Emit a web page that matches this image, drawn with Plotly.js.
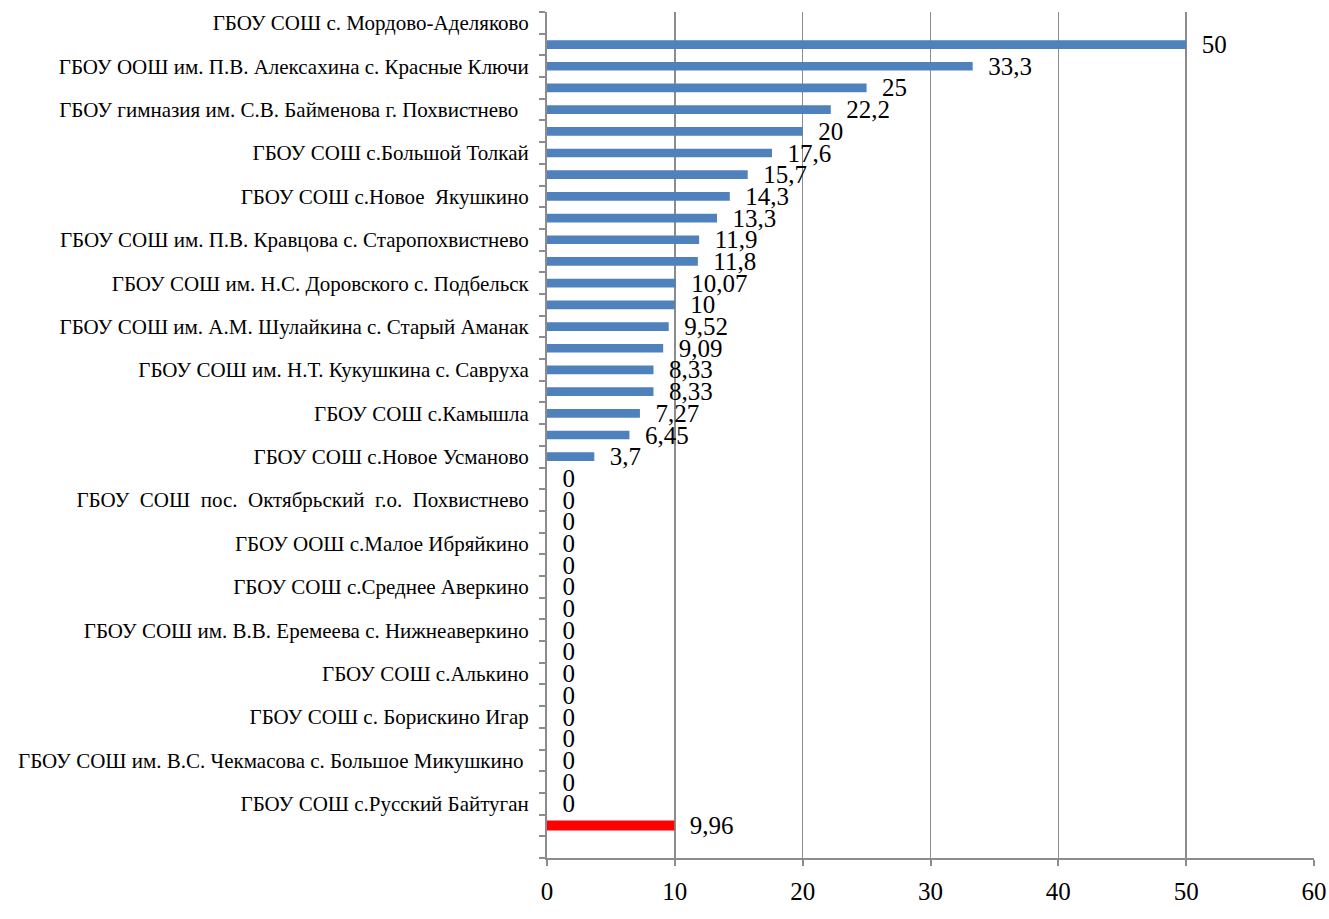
<!DOCTYPE html>
<html>
<head>
<meta charset="utf-8">
<script src="https://cdn.plot.ly/plotly-3.0.1.min.js"></script>
<style>html,body{margin:0;padding:0;background:#fff;}#chart{width:1329px;height:919px;}</style>
</head>
<body>
<div id="chart"></div>
<script>
// Category labels shown on the axis (every other row, top to bottom)
const tickLabels = [
  "ГБОУ СОШ с. Мордово-Аделяково",
  "ГБОУ ООШ им. П.В. Алексахина с. Красные Ключи",
  "ГБОУ гимназия им. С.В. Байменова г. Похвистнево  ",
  "ГБОУ СОШ с.Большой Толкай",
  "ГБОУ СОШ с.Новое  Якушкино",
  "ГБОУ СОШ им. П.В. Кравцова с. Старопохвистнево",
  "ГБОУ СОШ им. Н.С. Доровского с. Подбельск",
  "ГБОУ СОШ им. А.М. Шулайкина с. Старый Аманак",
  "ГБОУ СОШ им. Н.Т. Кукушкина с. Савруха",
  "ГБОУ СОШ с.Камышла",
  "ГБОУ СОШ с.Новое Усманово",
  "ГБОУ  СОШ  пос.  Октябрьский  г.о.  Похвистнево",
  "ГБОУ ООШ с.Малое Ибряйкино",
  "ГБОУ СОШ с.Среднее Аверкино",
  "ГБОУ СОШ им. В.В. Еремеева с. Нижнеаверкино",
  "ГБОУ СОШ с.Алькино",
  "ГБОУ СОШ с. Борискино Игар",
  "ГБОУ СОШ им. В.С. Чекмасова с. Большое Микушкино ",
  "ГБОУ СОШ с.Русский Байтуган"
];
// School values, top to bottom (first row has no bar)
const schoolValues = [null, 50, 33.3, 25, 22.2, 20, 17.6, 15.7, 14.3, 13.3, 11.9, 11.8,
  10.07, 10, 9.52, 9.09, 8.33, 8.33, 7.27, 6.45, 3.7,
  0, 0, 0, 0, 0, 0, 0, 0, 0, 0, 0, 0, 0, 0, 0, 0];
// District average (red bar)
const averageValues = [9.96];
const xTicks = [0, 10, 20, 30, 40, 50, 60];

const fmt = v => (v === null ? "" : "\u00a0\u00a0" + String(v).replace(".", ","));
const schoolRows = schoolValues.map((_, i) => i);
const avgRows = averageValues.map((_, i) => schoolValues.length + i);
const totalRows = schoolValues.length + averageValues.length + 1;
const labelRows = tickLabels.map((_, i) => i * 2);

const serif = "Liberation Serif, Times New Roman, serif";

const traces = [
  {
    type: "bar", orientation: "h",
    x: schoolValues, y: schoolRows,
    width: 0.4,
    marker: {color: "#4F81BD"},
    text: schoolValues.map(fmt),
    textposition: "outside",
    constraintext: "none",
    cliponaxis: false,
    textfont: {family: serif, size: 25, color: "#000"},
    hoverinfo: "x"
  },
  {
    type: "bar", orientation: "h",
    x: averageValues, y: avgRows,
    width: 0.46,
    marker: {color: "#FF0000"},
    text: averageValues.map(fmt),
    textposition: "outside",
    constraintext: "none",
    cliponaxis: false,
    textfont: {family: serif, size: 25, color: "#000"},
    hoverinfo: "x"
  }
];

const layout = {
  width: 1329, height: 919,
  margin: {l: 547, r: 15, t: 12, b: 61, pad: 0},
  paper_bgcolor: "#fff", plot_bgcolor: "#fff",
  showlegend: false,
  barmode: "overlay",
  font: {family: serif, color: "#000"},
  xaxis: {
    range: [0, 60],
    tickvals: xTicks,
    ticktext: xTicks.map(String),
    showgrid: true, gridcolor: "#8c8c8c", gridwidth: 1.5,
    showline: true, linecolor: "#8c8c8c", linewidth: 2,
    zeroline: false,
    ticks: "outside", ticklen: 6, tickcolor: "#8c8c8c", tickwidth: 2,
    ticklabelstandoff: 4,
    tickfont: {family: serif, size: 25, color: "#000"},
    fixedrange: true
  },
  yaxis: {
    range: [totalRows - 0.5, -0.5],
    tickvals: labelRows,
    ticktext: tickLabels,
    ticks: "",
    minor: {tick0: -0.5, dtick: 1, ticks: "outside", ticklen: 6, tickcolor: "#8c8c8c", tickwidth: 2, showgrid: false},
    showgrid: false,
    showline: true, linecolor: "#8c8c8c", linewidth: 2,
    zeroline: false,
    ticklabelstandoff: 12,
    tickfont: {family: serif, size: 21, color: "#000"},
    fixedrange: true
  }
};

Plotly.newPlot("chart", traces, layout, {displayModeBar: false, staticPlot: true});
</script>
</body>
</html>
